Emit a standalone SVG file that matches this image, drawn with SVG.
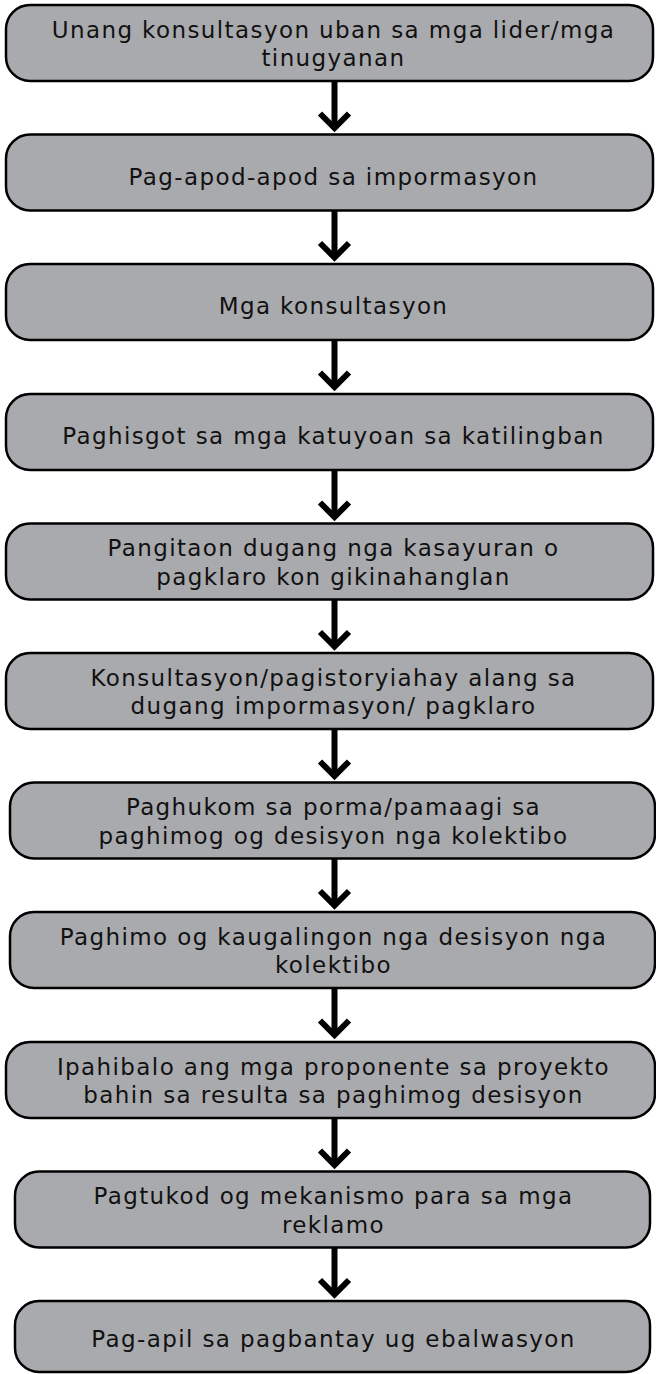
<svg xmlns="http://www.w3.org/2000/svg" width="656" height="1374" viewBox="0 0 656 1374">
<style>
.box{fill:#a9aaad;stroke:#000;stroke-width:2.5}
.lbl{font-family:"DejaVu Sans","Liberation Sans",sans-serif;font-size:23px;letter-spacing:1.4px;fill:#111;text-anchor:middle}
.con{stroke:#000;stroke-width:6;fill:none;marker-end:url(#ah)}
</style>
<defs>
<marker id="ah" markerUnits="userSpaceOnUse" markerWidth="40" markerHeight="40" viewBox="-20 -20 40 40" refX="0" refY="0" orient="auto" overflow="visible">
<polyline points="-14.5,-14.5 0,0 -14.5,14.5" fill="none" stroke="#000" stroke-width="6" stroke-linejoin="miter" stroke-miterlimit="10"/>
</marker>
</defs>
<rect width="656" height="1374" fill="#fff"/>
<g id="connectors">
<line class="con" x1="334.5" y1="81" x2="334.5" y2="128"/>
<line class="con" x1="334.5" y1="210.5" x2="334.5" y2="257.5"/>
<line class="con" x1="334.5" y1="340" x2="334.5" y2="387"/>
<line class="con" x1="334.5" y1="470" x2="334.5" y2="517"/>
<line class="con" x1="334.5" y1="599.5" x2="334.5" y2="646.5"/>
<line class="con" x1="334.5" y1="729" x2="334.5" y2="776"/>
<line class="con" x1="334.5" y1="858.5" x2="334.5" y2="905.5"/>
<line class="con" x1="334.5" y1="988" x2="334.5" y2="1035"/>
<line class="con" x1="334.5" y1="1118" x2="334.5" y2="1165"/>
<line class="con" x1="334.5" y1="1247.5" x2="334.5" y2="1294.5"/>
</g>
<g id="n1"><rect class="box" x="6" y="5" width="647" height="76" rx="24"/>
<text class="lbl" x="333.5" y="37.5">Unang konsultasyon uban sa mga lider/mga</text>
<text class="lbl" x="333.5" y="66">tinugyanan</text></g>
<g id="n2"><rect class="box" x="6" y="134.5" width="647" height="76" rx="24"/>
<text class="lbl" x="333.5" y="184.5">Pag-apod-apod sa impormasyon</text></g>
<g id="n3"><rect class="box" x="6" y="264" width="647" height="76" rx="24"/>
<text class="lbl" x="333.5" y="314">Mga konsultasyon</text></g>
<g id="n4"><rect class="box" x="6" y="394" width="647" height="76" rx="24"/>
<text class="lbl" x="333.5" y="444">Paghisgot sa mga katuyoan sa katilingban</text></g>
<g id="n5"><rect class="box" x="6" y="523.5" width="647" height="76" rx="24"/>
<text class="lbl" x="333.5" y="556">Pangitaon dugang nga kasayuran o</text>
<text class="lbl" x="333.5" y="584.5">pagklaro kon gikinahanglan</text></g>
<g id="n6"><rect class="box" x="6" y="653" width="647" height="76" rx="24"/>
<text class="lbl" x="333.5" y="685.5">Konsultasyon/pagistoryiahay alang sa</text>
<text class="lbl" x="333.5" y="714">dugang impormasyon/ pagklaro</text></g>
<g id="n7"><rect class="box" x="10" y="782.5" width="645" height="76" rx="24"/>
<text class="lbl" x="333.5" y="815">Paghukom sa porma/pamaagi sa</text>
<text class="lbl" x="333.5" y="843.5">paghimog og desisyon nga kolektibo</text></g>
<g id="n8"><rect class="box" x="10" y="912" width="645" height="76" rx="24"/>
<text class="lbl" x="333.5" y="944.5">Paghimo og kaugalingon nga desisyon nga</text>
<text class="lbl" x="333.5" y="973">kolektibo</text></g>
<g id="n9"><rect class="box" x="6" y="1042" width="649" height="76" rx="24"/>
<text class="lbl" x="333.5" y="1074.5">Ipahibalo ang mga proponente sa proyekto</text>
<text class="lbl" x="333.5" y="1103">bahin sa resulta sa paghimog desisyon</text></g>
<g id="n10"><rect class="box" x="15" y="1171.5" width="635" height="76" rx="24"/>
<text class="lbl" x="333.5" y="1204">Pagtukod og mekanismo para sa mga</text>
<text class="lbl" x="333.5" y="1232.5">reklamo</text></g>
<g id="n11"><rect class="box" x="15" y="1301" width="635" height="71" rx="24"/>
<text class="lbl" x="333.5" y="1347">Pag-apil sa pagbantay ug ebalwasyon</text></g>
</svg>
